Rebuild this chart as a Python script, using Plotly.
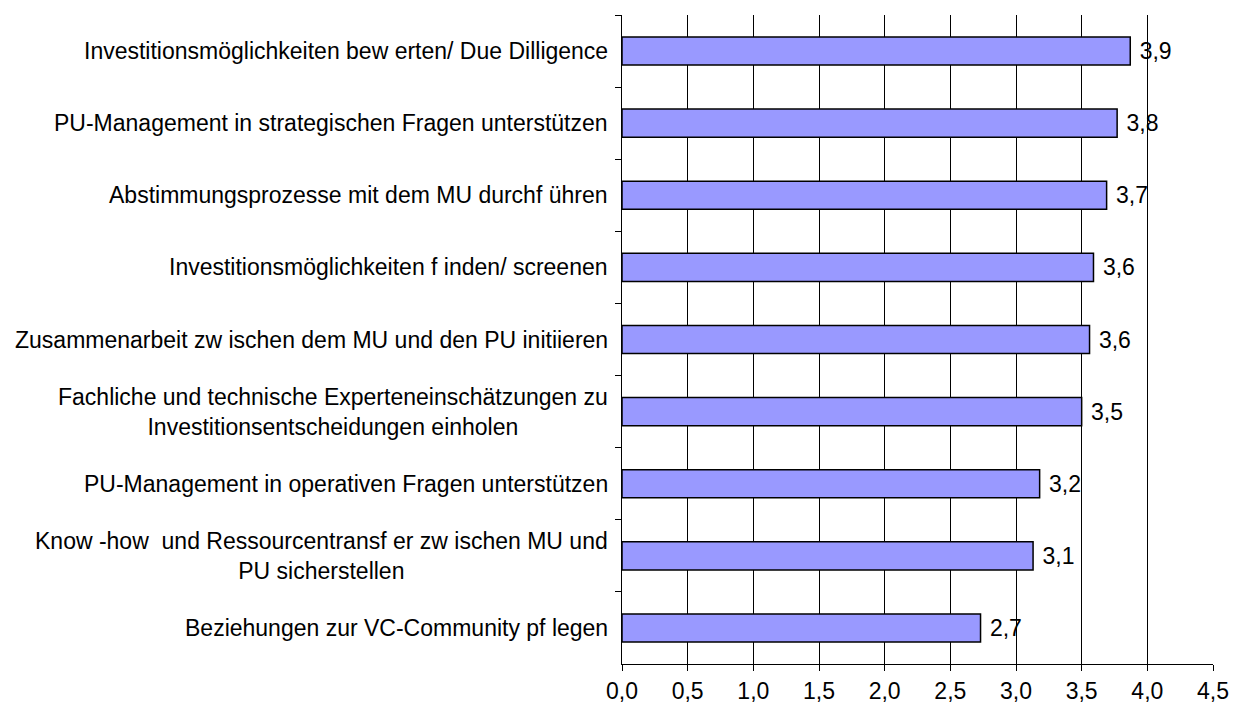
import plotly.graph_objects as go

categories = [
    "Investitionsmöglichkeiten bew erten/ Due Dilligence",
    "PU-Management in strategischen Fragen unterstützen",
    "Abstimmungsprozesse mit dem MU durchf ühren",
    "Investitionsmöglichkeiten f inden/ screenen",
    "Zusammenarbeit zw ischen dem MU und den PU initiieren",
    "Fachliche und technische Experteneinschätzungen zu<br>Investitionsentscheidungen einholen",
    "PU-Management in operativen Fragen unterstützen",
    "Know -how  und Ressourcentransf er zw ischen MU und<br>PU sicherstellen",
    "Beziehungen zur VC-Community pf legen",
]
values = [3.87, 3.77, 3.69, 3.59, 3.56, 3.50, 3.18, 3.13, 2.73]
x_ticks = [0.0, 0.5, 1.0, 1.5, 2.0, 2.5, 3.0, 3.5, 4.0, 4.5]

FONT = "Liberation Sans, Arial, sans-serif"
FS = 23

fig = go.Figure(
    go.Bar(
        x=values,
        y=categories,
        orientation="h",
        width=0.39,
        marker=dict(color="#9999FF", line=dict(color="#000000", width=1.5)),
        texttemplate=" %{x:.1f}",
        textposition="outside",
        textfont=dict(family=FONT, size=FS, color="#000000"),
        cliponaxis=False,
    )
)

for cat in categories:
    fig.add_annotation(
        x=0, xref="paper", y=cat, yref="y",
        text=cat, showarrow=False,
        xanchor="right", yanchor="middle", align="center",
        xshift=-12,
        font=dict(family=FONT, size=FS, color="#000000"),
    )

fig.update_layout(
    width=1240,
    height=706,
    margin=dict(l=622, r=27, t=15, b=42),
    paper_bgcolor="#FFFFFF",
    plot_bgcolor="#FFFFFF",
    separators=",.",
    showlegend=False,
    font=dict(family=FONT, size=FS, color="#000000"),
)

fig.update_xaxes(
    range=[0, 4.5],
    tickvals=x_ticks,
    tickformat=".1f",
    showgrid=True,
    gridcolor="#000000",
    gridwidth=1,
    showline=True,
    linecolor="#000000",
    linewidth=1,
    ticks="outside",
    ticklen=6,
    tickcolor="#000000",
    zeroline=False,
    automargin=False,
    tickfont=dict(family=FONT, size=FS, color="#000000"),
)

fig.update_yaxes(
    type="category",
    autorange="reversed",
    showticklabels=False,
    showline=True,
    linecolor="#000000",
    linewidth=1,
    ticks="outside",
    tickson="boundaries",
    ticklen=6,
    tickcolor="#000000",
    showgrid=False,
    zeroline=False,
    automargin=False,
)

fig.write_html(
    "out.html",
    config={"displayModeBar": False},
    post_script="document.body.style.margin='0';document.body.style.overflow='hidden';",
)
